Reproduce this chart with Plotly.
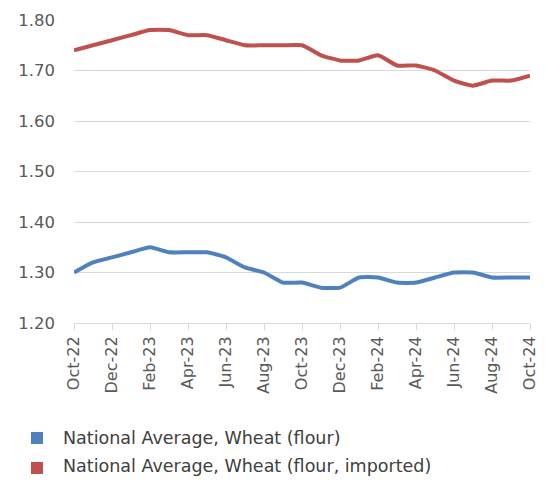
import plotly.graph_objects as go

months = ["Oct-22","Nov-22","Dec-22","Jan-23","Feb-23","Mar-23","Apr-23","May-23","Jun-23","Jul-23",
          "Aug-23","Sep-23","Oct-23","Nov-23","Dec-23","Jan-24","Feb-24","Mar-24","Apr-24","May-24",
          "Jun-24","Jul-24","Aug-24","Sep-24","Oct-24"]
tick_labels = months[::2]
y_ticks = [1.20, 1.30, 1.40, 1.50, 1.60, 1.70, 1.80]
flour = [1.30,1.32,1.33,1.34,1.35,1.34,1.34,1.34,1.33,1.31,1.30,1.28,1.28,1.27,1.27,1.29,1.29,1.28,1.28,1.29,1.30,1.30,1.29,1.29,1.29]
flour_imported = [1.74,1.75,1.76,1.77,1.78,1.78,1.77,1.77,1.76,1.75,1.75,1.75,1.75,1.73,1.72,1.72,1.73,1.71,1.71,1.70,1.68,1.67,1.68,1.68,1.69]
names = ["National Average, Wheat (flour)", "National Average, Wheat (flour, imported)"]
colors = ["#4F81BD", "#C0504D"]

FONT = "DejaVu Sans"
OFF = 8  # default page body margin
W, H = 546 - 2 * OFF, 485 - 2 * OFF
L, T = 74 - OFF, 20 - OFF
R = W - (530 - OFF)
B = H - (323 - OFF)
PW, PH = W - L - R, H - T - B

fig = go.Figure()
for ys, name, c in zip([flour, flour_imported], names, colors):
    fig.add_trace(go.Scatter(x=months, y=ys, name=name, mode="lines",
                             line=dict(color=c, width=4, shape="spline", smoothing=0.5),
                             showlegend=False))

# legend drawn as squares + text below the plot (page pixel positions)
square_py = [438, 468]
text_py = [438, 465.5]
for name, c, sy, ty in zip(names, colors, square_py, text_py):
    ys_ = (323 - sy) / PH
    yt_ = (323 - ty) / PH
    fig.add_shape(type="rect", xref="paper", yref="paper",
                  x0=(31 - 74) / PW, x1=(43 - 74) / PW, y0=ys_ - 6 / PH, y1=ys_ + 6 / PH,
                  fillcolor=c, line=dict(width=0))
    fig.add_annotation(text=name, xref="paper", yref="paper", x=(61 - 74) / PW, y=yt_,
                       xanchor="left", yanchor="middle", showarrow=False,
                       font=dict(family=FONT, size=17.5, color="#404040"))

fig.update_layout(
    width=W, height=H,
    margin=dict(l=L, r=R, t=T, b=B),
    paper_bgcolor="white", plot_bgcolor="white",
    font=dict(family=FONT, size=15, color="#595959"),
    showlegend=False,
    xaxis=dict(type="category", categoryorder="array", categoryarray=months,
               range=[0, 24], tickmode="array", tickvals=tick_labels, ticktext=tick_labels,
               tickangle=-90, ticks="outside", ticklen=6, tickcolor="#d9d9d9",
               showline=True, linecolor="#d9d9d9", linewidth=1, showgrid=False, zeroline=False,
               tickfont=dict(size=16, color="#595959"), automargin=False),
    yaxis=dict(range=[1.20, 1.80], tickvals=y_ticks, tickformat=".2f",
               showgrid=True, gridcolor="#d9d9d9", gridwidth=1, zeroline=False, showline=False,
               ticklabelstandoff=18, tickfont=dict(size=16.5, color="#595959"), automargin=False),
)
fig.write_html("out.html")
